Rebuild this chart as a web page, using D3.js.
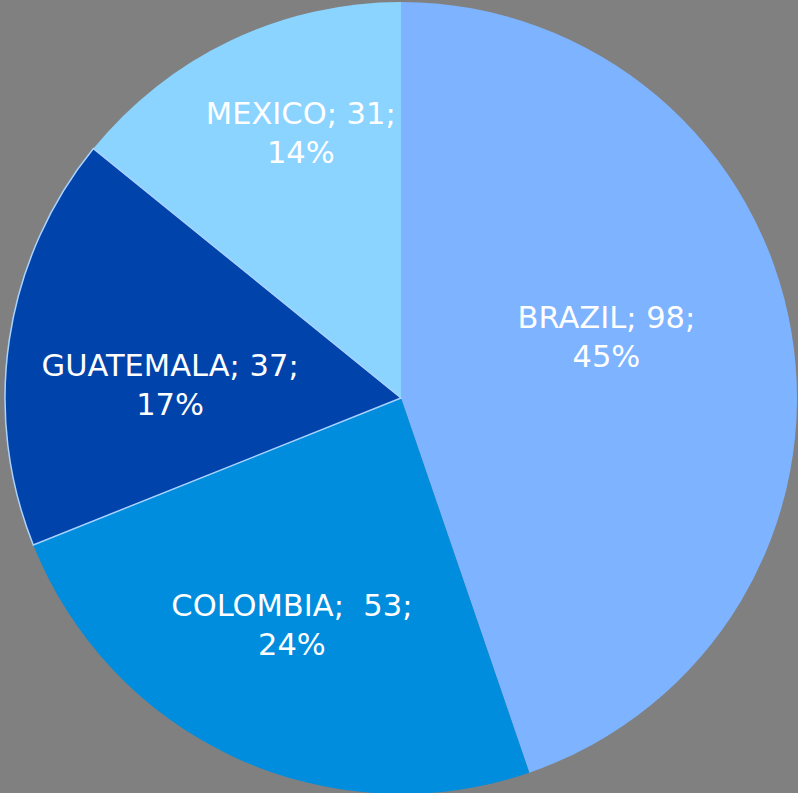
<!DOCTYPE html>
<html>
<head>
<meta charset="utf-8">
<script src="https://cdn.jsdelivr.net/npm/d3@7"></script>
<style>
  html, body { margin: 0; padding: 0; background: #808080; }
  svg { display: block; }
  .lbl { font-family: "DejaVu Sans", Verdana, sans-serif; font-size: 30.5px; fill: #fff; white-space: pre; }
</style>
</head>
<body>
<div id="chart"></div>
<script>
// data
const countries = ['BRAZIL', 'COLOMBIA', 'GUATEMALA', 'MEXICO'];
const values = [98, 53, 37, 31];
const percentLabels = ['45%', '24%', '17%', '14%'];
const separators = ['; ', ';  ', '; ', '; '];

// styling
const colors = ['#7db3ff', '#008ddd', '#0043ab', '#8ad4ff'];
const labelNudge = {
    BRAZIL: [-29, -11],
    COLOMBIA: [-10, 22],
    GUATEMALA: [4, 33],
    MEXICO: [2, -40]
};

const width = 798, height = 793;
const cx = 401, cy = 398, radius = 396;

const svg = d3.select('#chart').append('svg')
    .attr('width', width)
    .attr('height', height);

svg.append('rect').attr('width', width).attr('height', height).attr('fill', '#808080');

const g = svg.append('g').attr('transform', `translate(${cx},${cy})`);

const rows = countries.map((c, i) => ({ name: c, value: values[i], pct: percentLabels[i], sep: separators[i], color: colors[i] }));

const pie = d3.pie().sort(null).value(d => d.value);
const arcs = pie(rows);

const arc = d3.arc().innerRadius(0).outerRadius(radius);
const labelArc = d3.arc().innerRadius(radius * 0.6).outerRadius(radius * 0.6);

g.selectAll('path.slice')
    .data(arcs)
    .enter().append('path')
    .attr('class', 'slice')
    .attr('d', arc)
    .attr('fill', d => d.data.color);

// Guatemala slice has a light outline in the original
g.selectAll('path.outline')
    .data(arcs.filter(d => d.data.name === 'GUATEMALA'))
    .enter().append('path')
    .attr('class', 'outline')
    .attr('d', arc)
    .attr('fill', 'none')
    .attr('stroke', '#a9d3ff')
    .attr('stroke-width', 1.5);

const labels = g.selectAll('text.lbl')
    .data(arcs)
    .enter().append('text')
    .attr('class', 'lbl')
    .attr('text-anchor', 'middle')
    .attr('transform', d => {
        const [x, y] = labelArc.centroid(d);
        const n = labelNudge[d.data.name];
        return `translate(${x + n[0]},${y + n[1]})`;
    });

labels.append('tspan')
    .attr('x', 0)
    .attr('y', -19.5)
    .text(d => `${d.data.name}${d.data.sep}${d.data.value};`);

labels.append('tspan')
    .attr('x', 0)
    .attr('y', 19.5)
    .text(d => d.data.pct);
</script>
</body>
</html>
